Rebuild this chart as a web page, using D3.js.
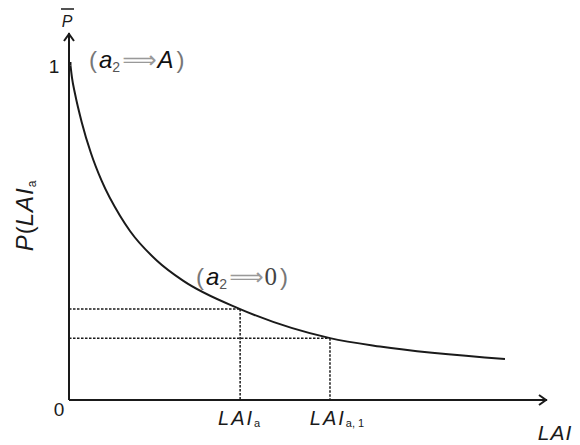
<!DOCTYPE html>
<html>
<head>
<meta charset="utf-8">
<script src="https://cdn.jsdelivr.net/npm/d3@7"></script>
<style>
  html, body { margin: 0; padding: 0; background: #fff; }
  svg text { font-family: "Liberation Sans", Arial, sans-serif; }
</style>
</head>
<body>
<svg id="chart" width="580" height="445"></svg>
<script>
// Canopy curve P(LAI_a): leaf area index vs. probability
const laiValues = [0.031, 0.063, 0.126, 0.266, 0.460, 0.684, 1.067, 1.276, 1.841, 2.385, 3.58, 5.46, 6.506, 9.121];
const pValues   = [0.99, 0.953, 0.906, 0.822, 0.73, 0.648, 0.545, 0.50, 0.412, 0.353, 0.269, 0.183, 0.158, 0.121];

// Marked points on the curve (LAI_a and LAI_a,1)
const markLAI = [3.58, 5.46];
const markP = [0.269, 0.183];
const markLabels = [["LAI", "a"], ["LAI", "a, 1"]];

// Labels at the ends of the P axis
const yTickValues = [0, 1];
const yTickLabels = ["0", "1"];

const svg = d3.select("#chart");

const x = d3.scaleLinear().domain([0, 10]).range([69, 547]);
const y = d3.scaleLinear().domain([0, 1]).range([400, 62]);

const ink = "#1a1a1a";

// Axes with open arrow heads
const yTop = 33;
svg.append("line")
  .attr("x1", x(0)).attr("y1", y(0)).attr("x2", x(0)).attr("y2", yTop)
  .attr("stroke", ink).attr("stroke-width", 2);
svg.append("path")
  .attr("d", `M${x(0) - 5},${yTop + 8} L${x(0)},${yTop + 1} L${x(0) + 5},${yTop + 8}`)
  .attr("fill", "none").attr("stroke", ink).attr("stroke-width", 2);

svg.append("line")
  .attr("x1", x(0)).attr("y1", y(0)).attr("x2", x(10)).attr("y2", y(0))
  .attr("stroke", ink).attr("stroke-width", 2);
svg.append("path")
  .attr("d", `M${x(10) - 8},${y(0) - 5} L${x(10) - 1},${y(0)} L${x(10) - 8},${y(0) + 5}`)
  .attr("fill", "none").attr("stroke", ink).attr("stroke-width", 2);

// Guide lines from the marked points to both axes
markLAI.forEach((l, i) => {
  svg.append("line")
    .attr("x1", x(0)).attr("y1", y(markP[i])).attr("x2", x(l)).attr("y2", y(markP[i]))
    .attr("stroke", ink).attr("stroke-width", 1.5).attr("stroke-dasharray", "2.5,1.5");
  svg.append("line")
    .attr("x1", x(l)).attr("y1", y(markP[i])).attr("x2", x(l)).attr("y2", y(0))
    .attr("stroke", ink).attr("stroke-width", 1.5).attr("stroke-dasharray", "2.5,1.5");
});

// The curve, with a short run up the axis to the value 1
svg.append("path")
  .datum(pValues)
  .attr("d", d3.line()
    .x((d, i) => x(laiValues[i]))
    .y(d => y(d))
    .curve(d3.curveMonotoneX))
  .attr("fill", "none").attr("stroke", ink).attr("stroke-width", 2);
svg.append("line")
  .attr("x1", x(laiValues[0])).attr("y1", y(1)).attr("x2", x(laiValues[0])).attr("y2", y(pValues[0]))
  .attr("stroke", ink).attr("stroke-width", 2);

// P axis end labels
const yOffsets = [9, 4];
const xOffsets = [-10, -15];
yTickValues.forEach((v, i) => {
  svg.append("text")
    .attr("x", x(0) + xOffsets[i]).attr("y", y(v) + yOffsets[i])
    .attr("text-anchor", "middle").attr("dominant-baseline", "central")
    .attr("font-size", 19).attr("fill", ink)
    .text(yTickLabels[i]);
});

// Labels under the marked LAI values
markLAI.forEach((l, i) => {
  const t = svg.append("text")
    .attr("x", x(l) + (i === 0 ? -1 : 7)).attr("y", 425)
    .attr("text-anchor", "middle").attr("fill", ink);
  t.append("tspan").attr("font-size", 20).attr("font-style", "italic")
    .attr("letter-spacing", 2).text(markLabels[i][0]);
  t.append("tspan").attr("font-size", 11).attr("dy", 2).text(markLabels[i][1]);
});

// Horizontal axis title
svg.append("text")
  .attr("x", 555).attr("y", 440).attr("text-anchor", "middle")
  .attr("font-size", 21).attr("font-style", "italic").attr("letter-spacing", 1)
  .attr("fill", ink).text("LAI");

// Vertical axis title P(LAI_a)
const yt = svg.append("text")
  .attr("transform", "translate(33,216) rotate(-90)")
  .attr("text-anchor", "middle").attr("fill", ink);
yt.append("tspan").attr("font-size", 24).attr("font-style", "italic").text("P");
yt.append("tspan").attr("font-size", 24).attr("dx", 1).text("(");
yt.append("tspan").attr("font-size", 24).attr("font-style", "italic").attr("letter-spacing", 1).text("LAI");
yt.append("tspan").attr("font-size", 12).attr("dy", 3).text("a");

// P-bar at the top of the vertical axis
svg.append("text")
  .attr("x", 67).attr("y", 27).attr("text-anchor", "middle")
  .attr("font-size", 16).attr("font-style", "italic").attr("fill", ink).text("P");
svg.append("line")
  .attr("x1", 61).attr("x2", 74).attr("y1", 9).attr("y2", 9)
  .attr("stroke", ink).attr("stroke-width", 1.5);

// Limit annotations on the curve
function limitLabel(x0, yBase, rhs, rhsSerif) {
  const t = svg.append("text").attr("x", x0).attr("y", yBase).attr("font-size", 24);
  t.append("tspan").attr("fill", "#777").text("(");
  t.append("tspan").attr("fill", "#111").attr("font-style", "italic").attr("dx", 2).text("a");
  t.append("tspan").attr("fill", "#555").attr("font-size", 14).attr("dy", 4).text("2");
  t.append("tspan").attr("fill", "#999").attr("font-family", "DejaVu Sans")
    .attr("font-size", 24).attr("dy", -4).attr("dx", 2).text("\u27F9");
  const r = t.append("tspan").attr("dx", 1).text(rhs);
  if (rhsSerif) r.attr("font-family", "Liberation Serif").attr("fill", "#444").attr("font-size", 25);
  else r.attr("font-style", "italic").attr("fill", "#111");
  t.append("tspan").attr("fill", "#777").attr("dx", 3).text(")");
}
limitLabel(89, 68, "A", false);
limitLabel(196, 285, "0", true);
</script>
</body>
</html>
